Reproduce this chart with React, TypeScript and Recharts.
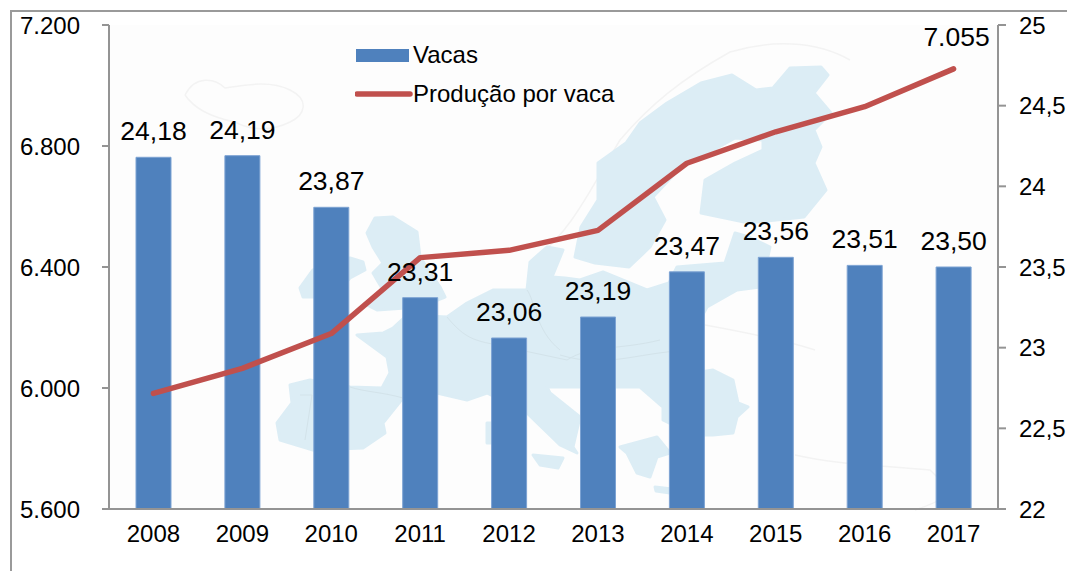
import { Bar, ComposedChart, LabelList, Legend, Line, XAxis, YAxis } from "recharts";

// dados
const anos = ["2008", "2009", "2010", "2011", "2012", "2013", "2014", "2015", "2016", "2017"];
const vacas = [24.18, 24.19, 23.87, 23.31, 23.06, 23.19, 23.47, 23.56, 23.51, 23.5];
const producao = [5982, 6065, 6180, 6431, 6455, 6521, 6743, 6847, 6930, 7055];
const rotuloProducao = [null, null, null, null, null, null, null, null, null, 7055];
const ticksEsq = [5600, 6000, 6400, 6800, 7200];
const ticksDir = [22, 22.5, 23, 23.5, 24, 24.5, 25];
const divisoes = [0, 1, 2, 3, 4, 5, 6, 7, 8, 9, 10];

const data = anos.map((ano, i) => ({
  ano,
  vacas: vacas[i],
  producao: producao[i],
  rotulo: rotuloProducao[i],
}));

const FONT = "'Liberation Sans', Arial, sans-serif";
const AXIS = "#949494";
const BLUE = "#4f81bd";
const RED = "#c0504d";
const MAP = "#dcedf5";

const fmtMil = (v: number) => String(v).replace(/\B(?=(\d{3})+$)/, ".");
const fmtDec = (v: number) => String(v).replace(".", ",");
const fmt2 = (v: number) => v.toFixed(2).replace(".", ",");

// mapa de fundo (só decoração, coordenadas em px da página)
const paises = [
  // Suécia + Finlândia
  "701,83 732,75 756,90 773,88 790,68 821,67 828,75 814,93 831,113 814,130 821,147 814,163 826,190 804,217 749,223 701,213 705,180 735,163 763,150 763,140 735,138 701,157 681,167 653,197 665,220 650,247 629,267 595,263 575,257 581,227 598,200 598,163 626,143 640,123 667,103",
  // Grã-Bretanha
  "375,218 393,217 417,232 420,257 440,287 445,297 420,307 377,310 367,305 383,290 373,273 383,263 373,247 367,233",
  // Irlanda
  "350,258 363,262 365,270 350,278 333,297 303,297 300,288 313,270",
  // continente
  "290,385 310,380 350,387 382,388 390,373 387,357 357,335 383,333 393,328 407,315 447,317 467,303 493,290 527,290 530,262 547,247 563,250 552,277 565,278 580,280 603,272 647,290 669,283 677,267 725,263 735,233 749,237 770,247 765,270 760,287 737,290 707,307 700,320 700,372 713,370 733,380 738,403 748,407 737,417 733,433 713,435 693,435 663,420 663,407 640,387 617,387 580,387 547,387 550,393 580,417 573,447 577,453 560,445 527,413 487,393 467,400 437,393 403,398 383,423 385,433 363,448 313,450 280,440 277,423 292,403",
  // Grécia
  "620,447 657,437 670,453 657,457 650,477 637,473 627,453",
  // Sicília, Sardenha, Creta
  "533,455 563,458 558,468 540,465",
  "487,423 495,423 495,443 487,443",
  "655,487 672,489 670,493 656,491",
];

const contornos = [
  // Islândia
  "M185 95 C195 75 215 78 225 88 C245 85 270 80 290 90 C310 100 305 115 290 122 C270 132 250 130 235 122 C215 118 195 110 185 95",
  // Noruega
  "M530 262 C570 235 590 190 620 140 C650 105 680 80 730 52 C770 40 815 40 850 60",
  // bordas leste
  "M705 325 C760 335 800 345 815 350 M795 455 C840 465 880 465 930 470 C950 490 960 495 915 510",
];

const fronteiras = [
  "M350 387 C365 392 382 392 403 398",
  "M300 395 L312 395 L305 440",
  "M447 317 C470 345 480 340 520 350 L567 360 C590 345 620 350 660 340",
  "M527 290 C535 300 535 330 560 350",
  "M560 355 C610 370 640 350 700 350",
];

function MapaFundo() {
  return (
    <svg width={1067} height={571} style={{ position: "absolute", left: 0, top: 0 }}>
      <rect x={109} y={25} width={889} height={484} fill="#fdfdfd" />
      {contornos.map((d, i) => (
        <path key={i} d={d} fill="none" stroke="#f3f3f3" strokeWidth={1.5} />
      ))}
      {paises.map((p, i) => (
        <polygon key={i} points={p} fill={MAP} stroke={MAP} strokeWidth={3} strokeLinejoin="round" />
      ))}
      {fronteiras.map((d, i) => (
        <path key={i} d={d} fill="none" stroke="#d3e3ea" strokeWidth={1} />
      ))}
    </svg>
  );
}

function Legenda() {
  return (
    <svg width={280} height={76} style={{ display: "block", fontFamily: FONT }}>
      <rect x={1} y={9} width={53} height={13} fill={BLUE} />
      <text x={58} y={23} fontSize={24} fill="#000">Vacas</text>
      <line x1={2} x2={55} y1={54} y2={54} stroke={RED} strokeWidth={5.5} strokeLinecap="round" />
      <text x={58} y={62} fontSize={24} fill="#000">Produção por vaca</text>
    </svg>
  );
}

export default function App() {
  return (
    <div style={{ position: "absolute", left: 0, top: 0, width: 1067, height: 571, background: "#fff", overflow: "hidden" }}>
      <MapaFundo />
      <div style={{ position: "absolute", left: 10, top: 10, right: -5, bottom: -5, borderLeft: "2px solid #9a9a9a", borderTop: "2px solid #9a9a9a" }} />
      <div style={{ position: "absolute", left: 0, top: 0 }}>
        <ComposedChart
          width={1067}
          height={571}
          data={data}
          barSize={35}
          margin={{ top: 25, right: 0, bottom: 0, left: 0 }}
          style={{ fontFamily: FONT }}
        >
          <XAxis
            xAxisId="divisoes"
            type="number"
            domain={[0, 10]}
            ticks={divisoes}
            interval={0}
            height={0}
            tick={false}
            axisLine={false}
            tickLine={{ stroke: AXIS, strokeWidth: 2 }}
            tickSize={8}
          />
          <XAxis
            dataKey="ano"
            xAxisId="anos"
            height={62}
            tickLine={false}
            axisLine={{ stroke: AXIS, strokeWidth: 2 }}
            tick={{ fill: "#000", fontSize: 24 }}
            tickMargin={10}
            interval={0}
          />
          <YAxis
            yAxisId="producao"
            orientation="left"
            width={109}
            domain={[5600, 7200]}
            ticks={ticksEsq}
            interval={0}
            tickFormatter={fmtMil}
            tick={{ fill: "#000", fontSize: 24 }}
            tickSize={7}
            tickMargin={22}
            tickLine={{ stroke: AXIS, strokeWidth: 2 }}
            axisLine={{ stroke: AXIS, strokeWidth: 2 }}
          />
          <YAxis
            yAxisId="vacas"
            orientation="right"
            width={69}
            domain={[22, 25]}
            ticks={ticksDir}
            interval={0}
            tickFormatter={fmtDec}
            tick={{ fill: "#000", fontSize: 24 }}
            tickSize={8}
            tickMargin={13}
            tickLine={{ stroke: AXIS, strokeWidth: 2 }}
            axisLine={{ stroke: AXIS, strokeWidth: 2 }}
          />
          <Legend
            content={<Legenda />}
            layout="vertical"
            verticalAlign="middle"
            align="center"
            wrapperStyle={{ left: 355, top: 40, width: 280 }}
          />
          <Bar
            dataKey="vacas"
            name="Vacas"
            xAxisId="anos"
            yAxisId="vacas"
            fill={BLUE}
            stroke="#7da3d3"
            strokeWidth={1}
            isAnimationActive={false}
          >
            <LabelList dataKey="vacas" position="top" offset={17} formatter={fmt2} fill="#000" fontSize={26.5} />
          </Bar>
          <Line
            dataKey="producao"
            name="Produção por vaca"
            xAxisId="anos"
            yAxisId="producao"
            stroke={RED}
            strokeWidth={5.5}
            strokeLinecap="round"
            strokeLinejoin="round"
            dot={false}
            activeDot={false}
            isAnimationActive={false}
          >
            <LabelList dataKey="rotulo" position="top" offset={23} dx={3} formatter={(v: number) => (v == null ? "" : fmtMil(v))} fill="#000" fontSize={26.5} />
          </Line>
        </ComposedChart>
      </div>
    </div>
  );
}
